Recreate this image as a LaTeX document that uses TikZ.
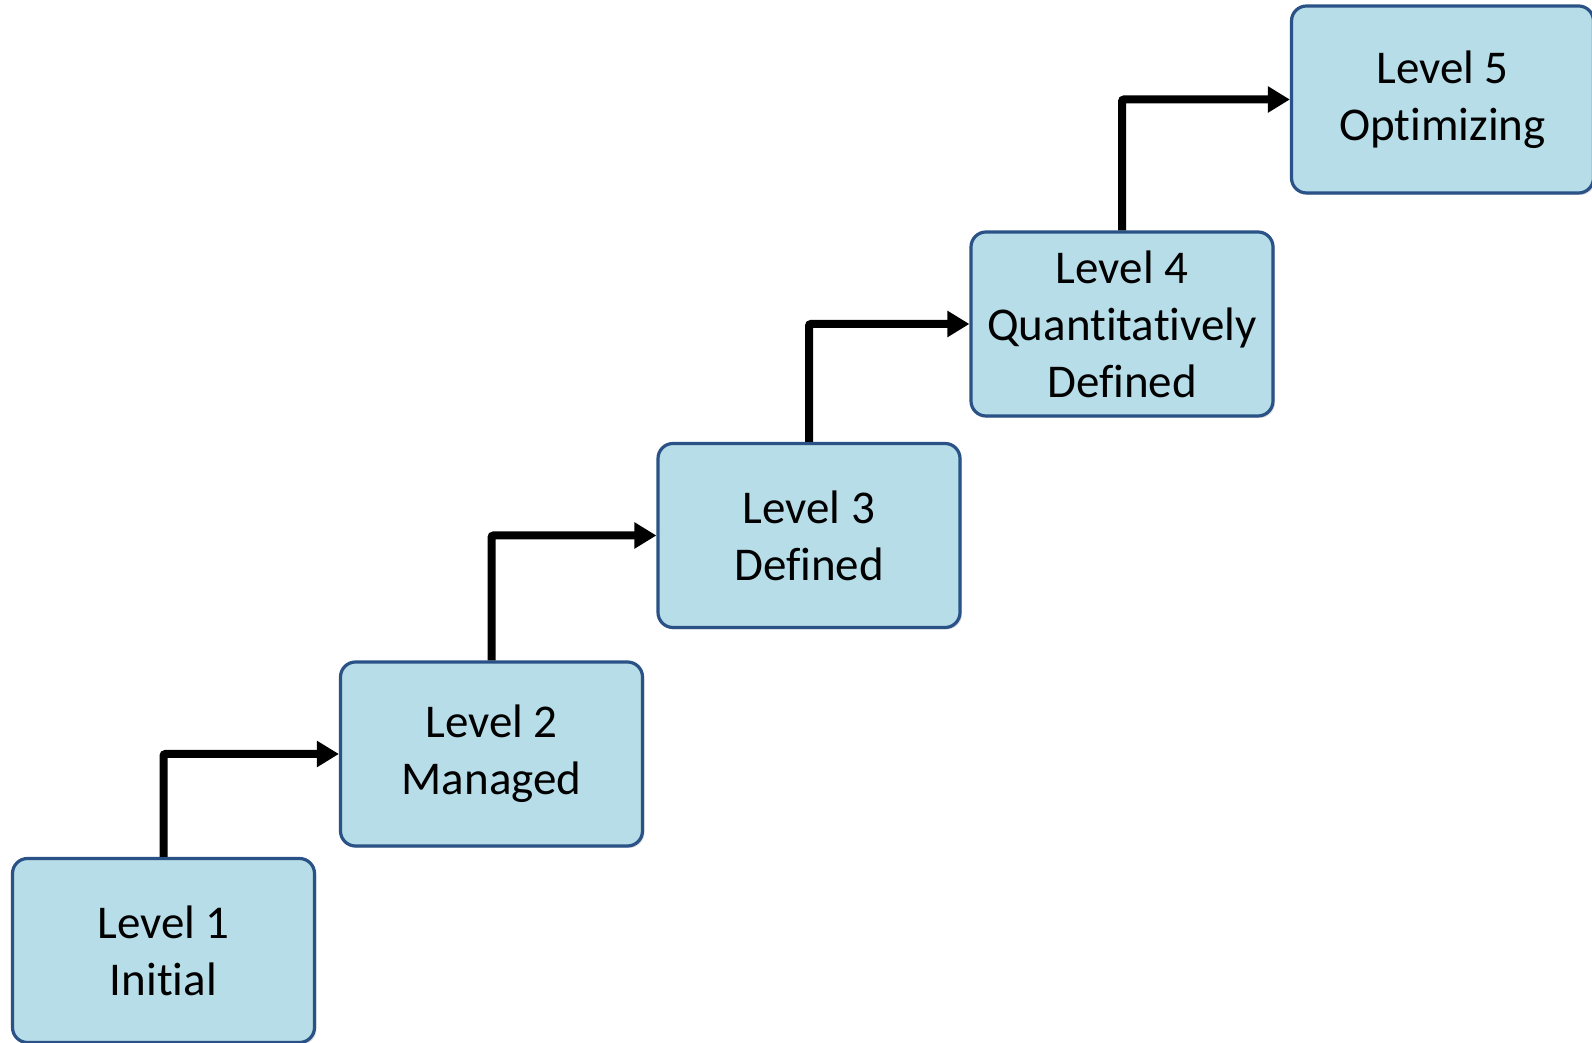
\documentclass[tikz,border=0pt]{standalone}
\usepackage{fontspec}
\setmainfont{Carlito}[Ligatures={NoCommon,NoContextual}]
\usetikzlibrary{arrows.meta,shadows}
\definecolor{boxfill}{HTML}{B7DDE8}
\definecolor{boxline}{HTML}{2A5287}
\tikzset{
  level/.style={rectangle, rounded corners=15pt, draw=boxline, line width=3.2pt, fill=boxfill,
    minimum width=302pt, minimum height=184pt, align=center, inner sep=0pt,
    font=\fontsize{47}{57}\selectfont,
    drop shadow={opacity=0.25, shadow xshift=2pt, shadow yshift=-2pt}},
  stepline/.style={line width=8pt, rounded corners=2pt, -{Triangle[length=22pt,width=25pt]}}
}
\begin{document}
\begin{tikzpicture}[x=1pt,y=1pt]
\useasboundingbox (0,0) rectangle (1592,1043);
\node[level] (b1) at (163.5,92.5) {Level 1\\Initial};
\node[level] (b2) at (491.5,289) {Level 2\\Managed};
\node[level] (b3) at (809,507.5) {Level 3\\Defined};
\node[level] (b4) at (1122,719) {Level 4\\Quantitatively\\Defined};
\node[level, minimum height=187pt] (b5) at (1442.5,943.5) {Level 5\\Optimizing};
\draw[stepline] (b1.north) |- (b2.west);
\draw[stepline] (b2.north) |- (b3.west);
\draw[stepline] (b3.north) |- (b4.west);
\draw[stepline] (b4.north) |- (b5.west);
\end{tikzpicture}
\end{document}
